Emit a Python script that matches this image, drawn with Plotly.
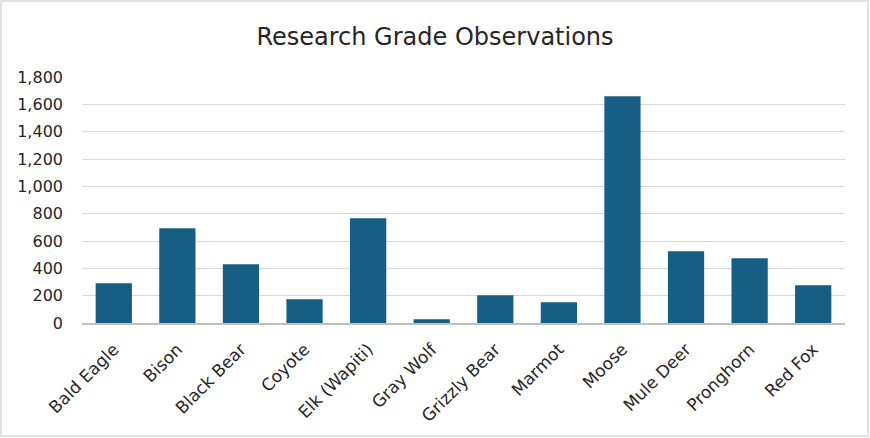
import plotly.graph_objects as go

species = ["Bald Eagle", "Bison", "Black Bear", "Coyote", "Elk (Wapiti)", "Gray Wolf",
           "Grizzly Bear", "Marmot", "Moose", "Mule Deer", "Pronghorn", "Red Fox"]
observations = [290, 693, 430, 173, 766, 27, 203, 151, 1659, 525, 473, 276]

y_ticks = [0, 200, 400, 600, 800, 1000, 1200, 1400, 1600, 1800]

W, H = 870, 438
ml, mr, mt, mb = 82, 25, 77, 115

fig = go.Figure()
fig.add_trace(go.Bar(
    x=species, y=observations,
    marker=dict(color="#165E83", line=dict(width=0)),
))

pw = W - ml - mr
ph = H - mt - mb
fig.update_layout(
    width=W, height=H,
    margin=dict(l=ml, r=mr, t=mt, b=mb, autoexpand=False),
    paper_bgcolor="white", plot_bgcolor="white",
    font=dict(family="DejaVu Sans, sans-serif", color="#262626", size=14),
    title=dict(text="Research Grade Observations", x=0.5, xanchor="center",
               y=1 - 37 / H, yanchor="middle",
               font=dict(size=24, color="#262626")),
    bargap=0.43,
    showlegend=False,
    xaxis=dict(tickangle=-45, showgrid=False, showline=True, linecolor="#BFBFBF",
               linewidth=1.5, ticks="", ticklabelstandoff=8,
               tickfont=dict(size=17, color="#262626")),
    yaxis=dict(range=[0, 1800], tickvals=y_ticks, tickformat=",", showgrid=True,
               gridcolor="#D9D9D9", gridwidth=1.3, zeroline=False, ticks="",
               ticklabelstandoff=18, tickfont=dict(size=16, color="#262626")),
    shapes=[dict(type="rect", xref="paper", yref="paper",
                 x0=(1 - ml) / pw, x1=(W - 2 - ml) / pw,
                 y0=-(H - 2 - mt - ph) / ph, y1=1 + (mt - 1) / ph,
                 line=dict(color="#D9D9D9", width=1.5), layer="below")],
)

fig.write_html("out.html", config={"displayModeBar": False},
               post_script="document.body.style.margin='0';")
